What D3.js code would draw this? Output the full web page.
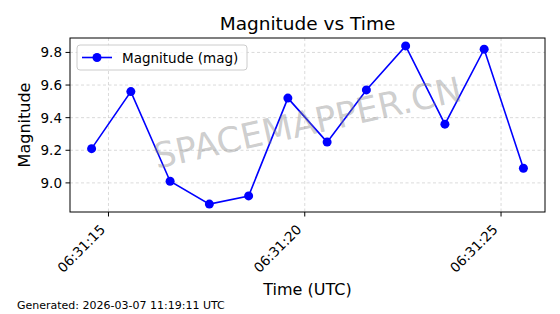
<!DOCTYPE html>
<html>
<head>
<meta charset="utf-8">
<script src="https://cdn.jsdelivr.net/npm/d3@7"></script>
<style>
  body { margin: 0; background: #fff; }
  svg { display: block; font-family: "DejaVu Sans", sans-serif; }
</style>
</head>
<body>
<div id="chart"></div>
<script>
// Data
const day = '2026-03-07';
const times = ['06:31:14.57', '06:31:15.57', '06:31:16.57', '06:31:17.57', '06:31:18.57', '06:31:19.57',
  '06:31:20.57', '06:31:21.57', '06:31:22.57', '06:31:23.57', '06:31:24.57', '06:31:25.57'];
const magnitudes = [9.21, 9.56, 9.01, 8.87, 8.92, 9.52, 9.25, 9.57, 9.84, 9.36, 9.82, 9.09];
const xTickLabels = ['06:31:15', '06:31:20', '06:31:25'];
const yTicks = [9.0, 9.2, 9.4, 9.6, 9.8];

const W = 560;
const H = 314;
const margin = { top: 38, right: 15, bottom: 102, left: 70 };
const width = W - margin.left - margin.right;
const height = H - margin.top - margin.bottom;

const parse = s => new Date(`${day}T${s}Z`);
const data = times.map((t, i) => ({ t: parse(t), v: magnitudes[i] }));

const svg = d3.select('#chart').append('svg')
  .attr('width', W)
  .attr('height', H);

const g = svg.append('g')
  .attr('transform', `translate(${margin.left},${margin.top})`);

// matplotlib-like 5% margins
const tExt = d3.extent(data, d => +d.t);
const tPad = (tExt[1] - tExt[0]) * 0.05;
const vExt = d3.extent(magnitudes);
const vPad = (vExt[1] - vExt[0]) * 0.05;

const x = d3.scaleUtc()
  .domain([new Date(tExt[0] - tPad), new Date(tExt[1] + tPad)])
  .range([0, width]);
const y = d3.scaleLinear()
  .domain([vExt[0] - vPad, vExt[1] + vPad])
  .range([height, 0]);

const xTicks = xTickLabels.map(parse);

// grid
g.append('g').selectAll('line.gx')
  .data(xTicks)
  .enter().append('line')
  .attr('x1', d => x(d)).attr('x2', d => x(d))
  .attr('y1', 0).attr('y2', height)
  .attr('stroke', '#b0b0b0').attr('stroke-opacity', 0.6)
  .attr('stroke-width', 0.8).attr('stroke-dasharray', '3,2.5');

g.append('g').selectAll('line.gy')
  .data(yTicks)
  .enter().append('line')
  .attr('x1', 0).attr('x2', width)
  .attr('y1', d => y(d)).attr('y2', d => y(d))
  .attr('stroke', '#b0b0b0').attr('stroke-opacity', 0.6)
  .attr('stroke-width', 0.8).attr('stroke-dasharray', '3,2.5');

// watermark
svg.append('text')
  .attr('transform', `translate(${margin.left + width / 2},${margin.top + height / 2 - 2}) rotate(-12.5)`)
  .attr('text-anchor', 'middle')
  .attr('dominant-baseline', 'central')
  .attr('font-size', 35)
  .attr('fill', '#808080')
  .attr('fill-opacity', 0.4)
  .text('SPACEMAPPER.CN');

// line + markers
const line = d3.line()
  .x(d => x(d.t))
  .y(d => y(d.v));

g.append('path')
  .datum(data)
  .attr('fill', 'none')
  .attr('stroke', '#0000ff')
  .attr('stroke-width', 1.6)
  .attr('d', line);

g.selectAll('circle.pt')
  .data(data)
  .enter().append('circle')
  .attr('class', 'pt')
  .attr('cx', d => x(d.t))
  .attr('cy', d => y(d.v))
  .attr('r', 4.5)
  .attr('fill', '#0000ff');

// frame
g.append('rect')
  .attr('width', width).attr('height', height)
  .attr('fill', 'none').attr('stroke', '#000').attr('stroke-width', 1);

// x axis ticks
const xt = g.append('g').attr('transform', `translate(0,${height})`);
xt.selectAll('line')
  .data(xTicks)
  .enter().append('line')
  .attr('x1', d => x(d)).attr('x2', d => x(d))
  .attr('y1', 0).attr('y2', 4.5)
  .attr('stroke', '#000').attr('stroke-width', 1);
xt.selectAll('text')
  .data(xTicks)
  .enter().append('text')
  .attr('transform', d => `translate(${x(d) - 6},${15}) rotate(-45)`)
  .attr('text-anchor', 'end')
  .attr('dominant-baseline', 'central')
  .attr('font-size', 13.5)
  .attr('fill', '#000')
  .text(d => d3.utcFormat('%H:%M:%S')(d));

// y axis ticks
const yt = g.append('g');
yt.selectAll('line')
  .data(yTicks)
  .enter().append('line')
  .attr('x1', -4.5).attr('x2', 0)
  .attr('y1', d => y(d)).attr('y2', d => y(d))
  .attr('stroke', '#000').attr('stroke-width', 1);
yt.selectAll('text')
  .data(yTicks)
  .enter().append('text')
  .attr('x', -8)
  .attr('y', d => y(d))
  .attr('text-anchor', 'end')
  .attr('dominant-baseline', 'central')
  .attr('font-size', 13.5)
  .attr('fill', '#000')
  .text(d => d.toFixed(1));

// legend
const lg = g.append('g').attr('transform', 'translate(7,7)');
lg.append('rect')
  .attr('width', 170).attr('height', 25).attr('rx', 3)
  .attr('fill', '#fff').attr('fill-opacity', 0.8)
  .attr('stroke', '#cccccc').attr('stroke-width', 1);
lg.append('line')
  .attr('x1', 5).attr('x2', 35).attr('y1', 12.5).attr('y2', 12.5)
  .attr('stroke', '#0000ff').attr('stroke-width', 1.6);
lg.append('circle')
  .attr('cx', 20).attr('cy', 12.5).attr('r', 4.5).attr('fill', '#0000ff');
lg.append('text')
  .attr('x', 45).attr('y', 12.5)
  .attr('dominant-baseline', 'central')
  .attr('font-size', 13.5)
  .text('Magnitude (mag)');

// titles
svg.append('text')
  .attr('x', margin.left + width / 2).attr('y', 30)
  .attr('text-anchor', 'middle')
  .attr('font-size', 18.5)
  .text('Magnitude vs Time');

svg.append('text')
  .attr('x', margin.left + width / 2).attr('y', 295)
  .attr('text-anchor', 'middle')
  .attr('font-size', 16)
  .text('Time (UTC)');

svg.append('text')
  .attr('transform', `translate(30,${margin.top + height / 2}) rotate(-90)`)
  .attr('text-anchor', 'middle')
  .attr('font-size', 16)
  .text('Magnitude');

svg.append('text')
  .attr('x', 17).attr('y', 309)
  .attr('font-size', 11)
  .text('Generated: 2026-03-07 11:19:11 UTC');
</script>
</body>
</html>
